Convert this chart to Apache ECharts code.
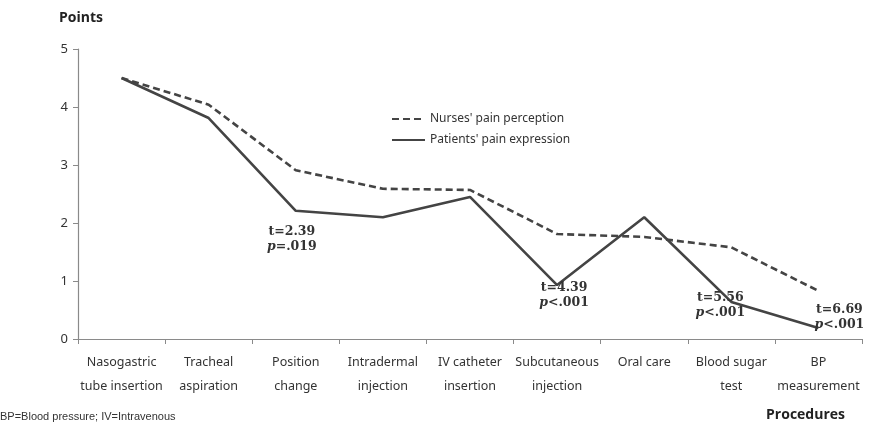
<!DOCTYPE html>
<html>
<head>
<meta charset="utf-8">
<script src="https://cdn.jsdelivr.net/npm/echarts@6/dist/echarts.min.js"></script>
<style>
html,body{margin:0;padding:0;background:#fff;}
#c{width:870px;height:431px;}
</style>
</head>
<body>
<div id="c"></div>
<script>
var categories = [
  'Nasogastric\ntube insertion', 'Tracheal\naspiration', 'Position\nchange',
  'Intradermal\ninjection', 'IV catheter\ninsertion', 'Subcutaneous\ninjection',
  'Oral care', 'Blood sugar\ntest', 'BP\nmeasurement'
];
var nurses = [4.50, 4.04, 2.91, 2.59, 2.57, 1.81, 1.76, 1.58, 0.83];
var patients = [4.50, 3.81, 2.21, 2.10, 2.45, 0.93, 2.10, 0.64, 0.19];
var yTicks = [0, 1, 2, 3, 4, 5];
var annotations = [
  { idx: 2, t: '2.39', p: '=.019' },
  { idx: 5, t: '4.39', p: '<.001' },
  { idx: 7, t: '5.56', p: '<.001' },
  { idx: 8, t: '6.69', p: '<.001' }
];
var annOffsets = { 2: [-4, 28], 5: [7, 10], 7: [-11, 3], 8: [21, -11] };

var lineColor = '#444444';
var richStyle = {
  t: { fontFamily: 'DejaVu Serif', fontWeight: 'bold', fontSize: 12.5, color: '#333', lineHeight: 15 },
  p: { fontFamily: 'DejaVu Serif', fontStyle: 'italic', fontWeight: 'bold', fontSize: 12.5, color: '#333', lineHeight: 15 },
  q: { fontFamily: 'DejaVu Serif', fontWeight: 'bold', fontSize: 12.5, color: '#333', lineHeight: 15 }
};
var markData = annotations.map(function (a) {
  return {
    coord: [a.idx, patients[a.idx]],
    symbol: 'circle', symbolSize: 1,
    itemStyle: { color: 'rgba(0,0,0,0)' },
    label: {
      show: true, position: 'inside', offset: annOffsets[a.idx],
      formatter: '{t|t=' + a.t + '}\n{p|p}{q|' + a.p + '}',
      rich: richStyle
    }
  };
});

var chart = echarts.init(document.getElementById('c'));
chart.setOption({
  animation: false,
  backgroundColor: '#fff',
  title: {
    text: 'Points', left: 54, top: 6,
    textStyle: { fontFamily: 'Open Sans', fontWeight: 'bold', fontSize: 14, color: '#222' }
  },
  legend: {
    orient: 'vertical', left: 386, top: 108, itemGap: 9,
    itemWidth: 33, itemHeight: 10,
    itemStyle: { opacity: 0 },
    textStyle: { fontFamily: 'Noto Sans', fontSize: 12, color: '#333' },
    data: ["Nurses' pain perception", "Patients' pain expression"]
  },
  grid: { left: 78, right: 8, top: 49, bottom: 92 },
  xAxis: {
    type: 'category', data: categories, boundaryGap: true,
    axisLine: { lineStyle: { color: '#8a8a8a', width: 1.2 } },
    axisTick: { show: true, length: 5, alignWithLabel: false, lineStyle: { color: '#8a8a8a' } },
    axisLabel: {
      interval: 0, margin: 11, color: '#333', fontFamily: 'Noto Sans', fontSize: 12.5, lineHeight: 24
    }
  },
  yAxis: {
    type: 'value', min: 0, max: 5, interval: 1,
    axisLine: { show: true, lineStyle: { color: '#8a8a8a', width: 1.2 } },
    axisTick: { show: true, length: 5, lineStyle: { color: '#8a8a8a' } },
    splitLine: { show: false },
    axisLabel: {
      margin: 10, color: '#333', fontFamily: 'Noto Sans', fontSize: 13,
      formatter: function (v) { return yTicks.indexOf(v) >= 0 ? String(v) : ''; }
    }
  },
  series: [
    {
      name: "Nurses' pain perception", type: 'line', data: nurses,
      symbol: 'none', z: 2,
      lineStyle: { color: lineColor, width: 2.6, type: [7, 4] },
      itemStyle: { color: lineColor }
    },
    {
      name: "Patients' pain expression", type: 'line', data: patients,
      symbol: 'none', z: 3,
      lineStyle: { color: lineColor, width: 2.6 },
      itemStyle: { color: lineColor },
      markPoint: { silent: true, data: markData }
    }
  ],
  graphic: [
    {
      type: 'text', right: 25, top: 408,
      style: { text: 'Procedures', font: 'bold 14px "Open Sans"', fill: '#222' }
    },
    {
      type: 'text', left: 0, top: 411,
      style: { text: 'BP=Blood pressure; IV=Intravenous', font: '11px "Liberation Sans Narrow", "Liberation Sans"', fill: '#333' }
    }
  ]
});
</script>
</body>
</html>
